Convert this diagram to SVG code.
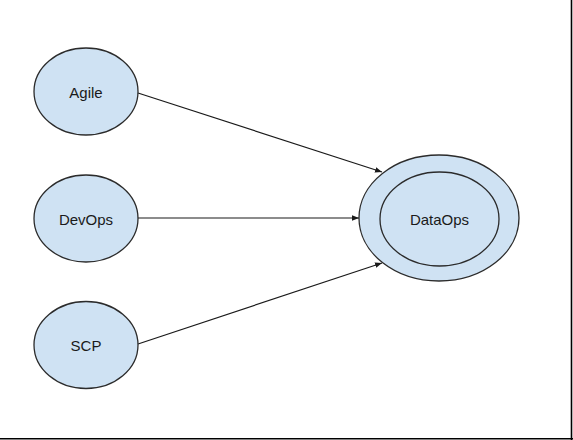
<svg xmlns="http://www.w3.org/2000/svg" width="573" height="440" viewBox="0 0 573 440">
<style>
.node{fill:#cfe2f3;stroke:#2b2b2b;stroke-width:1.3}
.lbl{font-family:"Liberation Sans",Arial,sans-serif;font-size:15px;fill:#1a1a1a;text-anchor:middle;dominant-baseline:central}
.edge{stroke:#1a1a1a;stroke-width:1.2;fill:none;marker-end:url(#arr)}
</style>
<defs>
<marker id="arr" viewBox="0 0 10 10" refX="10" refY="5" markerWidth="7" markerHeight="7" markerUnits="userSpaceOnUse" orient="auto">
<path d="M0,1 L10,5 L0,9 Z" fill="#1a1a1a"/>
</marker>
</defs>
<rect width="573" height="440" fill="#ffffff"/>
<g id="frame">
<line x1="571.5" y1="0" x2="571.5" y2="440" stroke="#000" stroke-width="1.6"/>
<line x1="0" y1="438.8" x2="573" y2="438.8" stroke="#000" stroke-width="1.6"/>
</g>
<g id="connectors">
<line class="edge" x1="138" y1="93" x2="382" y2="172"/>
<line class="edge" x1="138" y1="218" x2="359" y2="218"/>
<line class="edge" x1="138" y1="344" x2="382" y2="263"/>
</g>
<g id="agile">
<ellipse class="node" cx="86" cy="91.5" rx="52" ry="43.5"/>
<text class="lbl" x="86" y="92">Agile</text>
</g>
<g id="devops">
<ellipse class="node" cx="86" cy="218.5" rx="52" ry="43.5"/>
<text class="lbl" x="86" y="219">DevOps</text>
</g>
<g id="scp">
<ellipse class="node" cx="86" cy="345" rx="52" ry="43.5"/>
<text class="lbl" x="86" y="345">SCP</text>
</g>
<g id="dataops">
<ellipse class="node" cx="439" cy="218" rx="80" ry="63"/>
<ellipse class="node" cx="439.5" cy="219" rx="59.5" ry="47"/>
<text class="lbl" x="439.5" y="219">DataOps</text>
</g>
</svg>
